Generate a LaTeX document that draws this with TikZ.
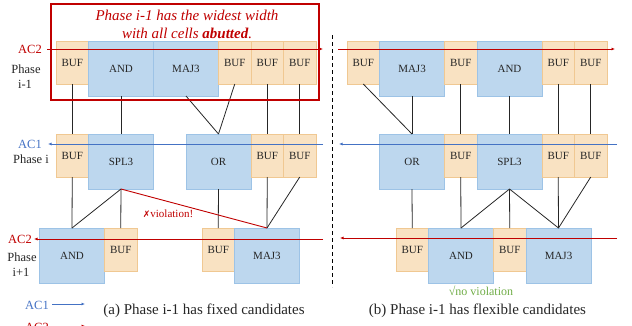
\documentclass[tikz,border=0pt]{standalone}
\usepackage{fontspec}
\setmainfont{Liberation Serif}
\newfontfamily\symfont{DejaVu Sans}
\usetikzlibrary{arrows.meta}
\definecolor{buffill}{HTML}{F9E2C2}
\definecolor{bufline}{HTML}{F0C892}
\definecolor{gatefill}{HTML}{BDD7EE}
\definecolor{gateline}{HTML}{9DC3E6}
\definecolor{acred}{HTML}{C00000}
\definecolor{acblue}{HTML}{4472C4}
\definecolor{okgreen}{HTML}{70AD47}
\definecolor{txt}{HTML}{262626}
\tikzset{
  cellbox/.style={draw, line width=0.8pt, inner sep=0pt, outer sep=0pt, text=txt,
    font=\fontsize{11}{13}\selectfont},
  buf/.style={cellbox, fill=buffill, draw=bufline, minimum width=32.5pt, minimum height=43pt},
  gate/.style={cellbox, fill=gatefill, draw=gateline, minimum width=65pt, minimum height=55pt},
  wire/.style={draw=black!85, line width=0.8pt},
  badwire/.style={draw=acred, line width=0.9pt},
  acline/.style={line width=0.9pt, -{Latex[length=3.5pt,width=3pt]}},
  lab/.style={inner sep=0pt, font=\fontsize{12.5}{14}\selectfont},
  captext/.style={inner sep=0pt, font=\fontsize{15}{17}\selectfont, text=txt},
}
\begin{document}
\begin{tikzpicture}[x=1pt,y=-1pt]
\useasboundingbox (0,0) rectangle (632,325);
% ---------- left panel ----------
% row 1 (phase i-1)
\node[buf]  (l1b1) at (72.25,62.5) {BUF};
\node[gate] (l1and) at (121,68.5) {AND};
\node[gate] (l1maj) at (186,68.5) {MAJ3};
\node[buf]  (l1b2) at (234.75,62.5) {BUF};
\node[buf]  (l1b3) at (267.25,62.5) {BUF};
\node[buf]  (l1b4) at (299.75,62.5) {BUF};
% row 2 (phase i)
\node[buf]  (l2b1) at (72.25,155.5) {BUF};
\node[gate] (l2spl) at (121,161.5) {SPL3};
\node[gate] (l2or) at (218.5,161.5) {OR};
\node[buf]  (l2b2) at (267.25,155.5) {BUF};
\node[buf]  (l2b3) at (299.75,155.5) {BUF};
% row 3 (phase i+1)
\node[gate] (l3and) at (72,255.5) {AND};
\node[buf]  (l3b1) at (120.75,249.5) {BUF};
\node[buf]  (l3b2) at (218.25,249.5) {BUF};
\node[gate] (l3maj) at (267,255.5) {MAJ3};
% wires left
\draw[wire] (l1b1.south) -- (l2b1.north);
\draw[wire] (l1and.south) -- (l2spl.north);
\draw[wire] (l1maj.south) -- (l2or.north);
\draw[wire] (l1b2.south) -- (l2or.north);
\draw[wire] (l1b3.south) -- (l2b2.north);
\draw[wire] (l1b4.south) -- (l2b3.north);
\draw[wire] (l2b1.south) -- (l3and.north);
\draw[wire] (l2spl.south) -- (l3and.north);
\draw[wire] (l2spl.south) -- (l3b1.north);
\draw[wire] (l2or.south) -- (l3b2.north);
\draw[wire] (l2b2.south) -- (l3maj.north);
\draw[wire] (l2b3.south) -- (l3maj.north);
\draw[badwire] (l2spl.south) -- (l3maj.north);
\node[inner sep=0pt, text=acred, font=\fontsize{11}{13}\selectfont] (viol) at (168,214) {{\symfont\fontsize{9}{11}\selectfont ✗}violation!};
% red box and title
\node[draw=acred, line width=1.3pt, minimum width=268pt, minimum height=96pt, inner sep=0pt] (rbox) at (185,52) {};
\node[inner sep=0pt, text=acred, font=\fontsize{15}{17}\selectfont\itshape] (t1) at (187,15) {Phase i-1 has the widest width};
\node[inner sep=0pt, text=acred, font=\fontsize{15}{17}\selectfont\itshape] (t2) at (187,33) {with all cells \textbf{abutted}.};
% row labels left
\node[lab, text=acred] (lac2a) at (30,49) {AC2};
\node[lab, text=txt] (lph1a) at (26,69) {Phase};
\node[lab, text=txt] (lph1b) at (25,84) {i-1};
\node[lab, text=acblue] (lac1) at (30,144) {AC1};
\node[lab, text=txt] (lph2) at (31,159) {Phase i};
\node[lab, text=acred] (lac2b) at (20,239) {AC2};
\node[lab, text=txt] (lph3a) at (22,257) {Phase};
\node[lab, text=txt] (lph3b) at (21,272) {i+1};
% AC lines left
\coordinate (la1s) at (47,49);  \coordinate (la1e) at (323,49);
\coordinate (la2s) at (323,144); \coordinate (la2e) at (48,144);
\coordinate (la3s) at (323,239); \coordinate (la3e) at (34,239);
\draw[acline, acred] (la1s) -- (la1e);
\draw[acline, acblue] (la2s) -- (la2e);
\draw[acline, acred] (la3s) -- (la3e);
% legend
\node[lab, text=acblue] (leg1) at (37,305) {AC1};
\coordinate (lg1s) at (52,304); \coordinate (lg1e) at (85,304);
\draw[acline, acblue] (lg1s) -- (lg1e);
\node[lab, text=acred] (leg2) at (37,327) {AC2};
\coordinate (lg2s) at (52,326); \coordinate (lg2e) at (85,326);
\draw[acline, acred] (lg2s) -- (lg2e);
\node[captext] (capa) at (204,311) {(a) Phase i-1 has fixed candidates};
% divider
\coordinate (dv1) at (332,35); \coordinate (dv2) at (332,287);
\draw[line width=0.9pt, dash pattern=on 4pt off 3pt] (dv1) -- (dv2);
% ---------- right panel ----------
\node[buf]  (r1b1) at (363.25,62.5) {BUF};
\node[gate] (r1maj) at (412,68.5) {MAJ3};
\node[buf]  (r1b2) at (460.75,62.5) {BUF};
\node[gate] (r1and) at (509.5,68.5) {AND};
\node[buf]  (r1b3) at (558.25,62.5) {BUF};
\node[buf]  (r1b4) at (590.75,62.5) {BUF};
\node[gate] (r2or) at (412,161.5) {OR};
\node[buf]  (r2b1) at (460.75,155.5) {BUF};
\node[gate] (r2spl) at (509.5,161.5) {SPL3};
\node[buf]  (r2b2) at (558.25,155.5) {BUF};
\node[buf]  (r2b3) at (590.75,155.5) {BUF};
\node[buf]  (r3b1) at (412.25,249.5) {BUF};
\node[gate] (r3and) at (461,255.5) {AND};
\node[buf]  (r3b2) at (509.75,249.5) {BUF};
\node[gate] (r3maj) at (558.5,255.5) {MAJ3};
\draw[wire] (r1b1.south) -- (r2or.north);
\draw[wire] (r1maj.south) -- (r2or.north);
\draw[wire] (r1b2.south) -- (r2b1.north);
\draw[wire] (r1and.south) -- (r2spl.north);
\draw[wire] (r1b3.south) -- (r2b2.north);
\draw[wire] (r1b4.south) -- (r2b3.north);
\draw[wire] (r2or.south) -- (r3b1.north);
\draw[wire] (r2b1.south) -- (r3and.north);
\draw[wire] (r2spl.south) -- (r3and.north);
\draw[wire] (r2spl.south) -- (r3b2.north);
\draw[wire] (r2spl.south) -- (r3maj.north);
\draw[wire] (r2b2.south) -- (r3maj.north);
\draw[wire] (r2b3.south) -- (r3maj.north);
\coordinate (ra1s) at (338,49);  \coordinate (ra1e) at (615,49);
\coordinate (ra2s) at (617,144); \coordinate (ra2e) at (339,144);
\coordinate (ra3s) at (617,238); \coordinate (ra3e) at (340,238);
\draw[acline, acred] (ra1s) -- (ra1e);
\draw[acline, acblue] (ra2s) -- (ra2e);
\draw[acline, acred] (ra3s) -- (ra3e);
\node[inner sep=0pt, text=okgreen, font=\fontsize{12}{14}\selectfont] (okv) at (481,291) {√no violation};
\node[captext] (capb) at (477.5,311) {(b) Phase i-1 has flexible candidates};
\end{tikzpicture}
\end{document}
